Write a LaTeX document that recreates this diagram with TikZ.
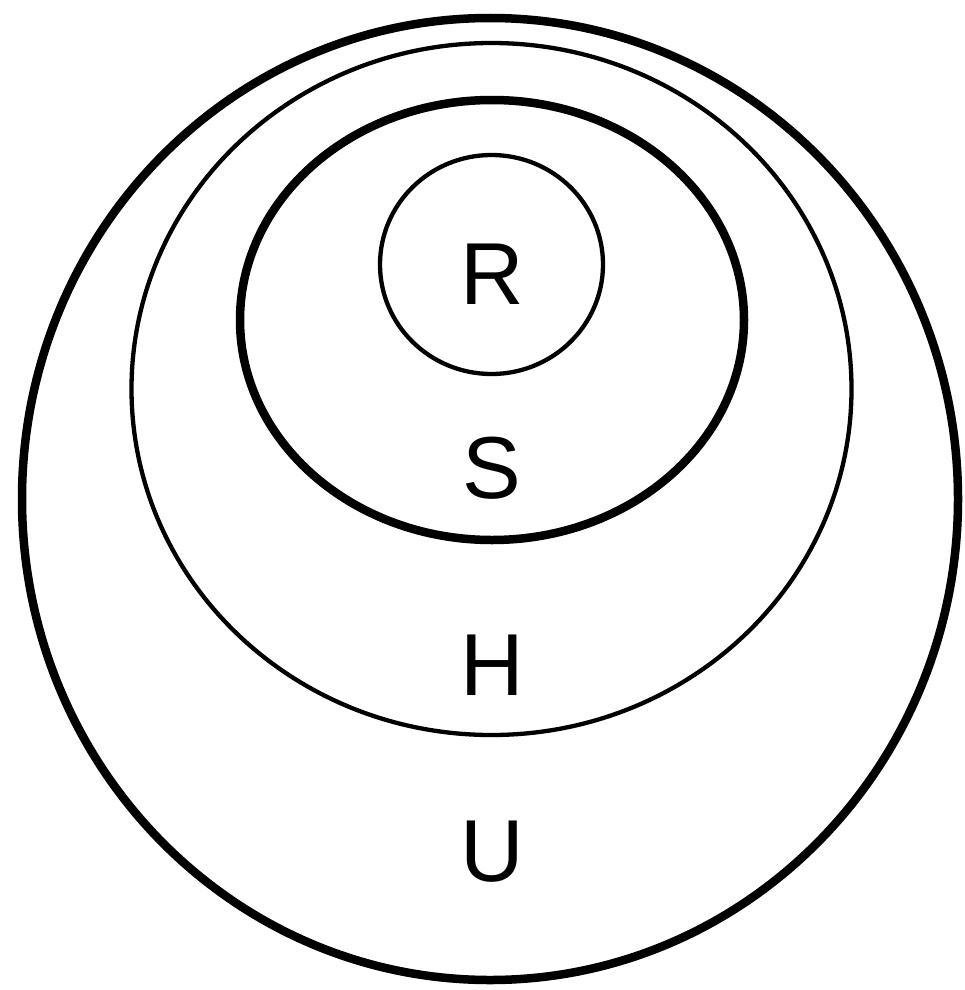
\documentclass[tikz,border=0pt]{standalone}
\usepackage{fontspec}
\setmainfont{Liberation Sans}
\begin{document}
\begin{tikzpicture}[x=1pt,y=-1pt,
  thickring/.style={draw=black,line width=8.5pt},
  thinring/.style={draw=black,line width=4.3pt},
  lbl/.style={inner sep=0pt,anchor=center,font=\fontsize{88}{100}\selectfont}]
\useasboundingbox (0,0) rectangle (965,990);
\draw[thickring] (490,499) ellipse [x radius=468, y radius=481];
\draw[thinring] (491.5,389) ellipse [x radius=360, y radius=346];
\draw[thickring] (492,320) ellipse [x radius=252, y radius=220];
\draw[thinring] (491.5,264.5) ellipse [x radius=111.5, y radius=109.5];
\node[lbl] (r) at (492,274) {R};
\node[lbl] (s) at (492,468) {S};
\node[lbl] (h) at (492,665) {H};
\node[lbl] (u) at (492,852) {U};
\end{tikzpicture}
\end{document}
